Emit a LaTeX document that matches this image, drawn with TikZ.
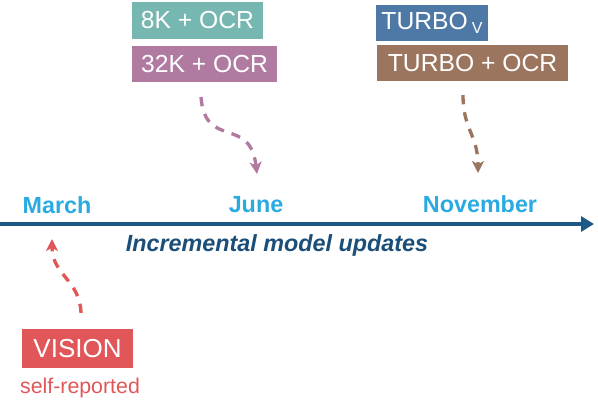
\documentclass[tikz,border=0pt]{standalone}
\usepackage{fontspec}
\setmainfont{Liberation Sans}
\usetikzlibrary{arrows.meta}
\definecolor{cteal}{HTML}{76B7B2}
\definecolor{cpurple}{HTML}{B07AA1}
\definecolor{cblue}{HTML}{4E79A7}
\definecolor{cbrown}{HTML}{9C755F}
\definecolor{cred}{HTML}{E15759}
\definecolor{cmonth}{HTML}{2BAAE2}
\definecolor{cline}{HTML}{1D5985}
\definecolor{ctext}{HTML}{1B4E78}
\tikzset{
  tagbox/.style={fill=#1, text=white, inner sep=0pt, anchor=center,
    font=\fontsize{18.5}{20}\selectfont},
  month/.style={text=cmonth, font=\fontsize{17.5}{20}\selectfont\bfseries, inner sep=0pt},
  flow/.style={draw=#1, line width=2.5pt, dash pattern=on 7pt off 6pt,
    -{Stealth[length=9pt,width=9pt,inset=2.5pt]}}
}
\begin{document}
\begin{tikzpicture}[x=0.75pt,y=-0.75pt]
\useasboundingbox (0,0) rectangle (598,411);
% boxes
\node[tagbox=cteal, minimum width=98.25pt, minimum height=27.75pt] (k8) at (197.5,20.5) {8K + OCR};
\node[tagbox=cpurple, minimum width=108.75pt, minimum height=27pt] (k32) at (204.5,64) {32K + OCR};
\node[tagbox=cblue, minimum width=84pt, minimum height=27pt] (tv) at (432,23) {TURBO\,\raisebox{-0.25ex}{\fontsize{12}{12}\selectfont V}};
\node[tagbox=cbrown, minimum width=143.25pt, minimum height=27pt] (tocr) at (472.5,63) {TURBO + OCR};
\node[tagbox=cred, minimum width=83.25pt, minimum height=29.25pt, font=\fontsize{19.5}{21}\selectfont] (vis) at (77.5,348.5) {VISION};
\node[text=cred, font=\fontsize{16}{18}\selectfont, inner sep=0pt] (self) at (80,388) {self-reported};
% timeline
\coordinate (tl0) at (0,224);
\coordinate (tl1) at (594,224);
\draw[cline, line width=3pt, -{Triangle[length=9.75pt,width=11.25pt]}] (tl0) -- (tl1);
\node[month] (mar) at (57,205) {March};
\node[month] (jun) at (256,205) {June};
\node[month] (nov) at (480,204) {November};
\node[text=ctext, font=\fontsize{17.5}{20}\selectfont\bfseries\itshape, inner sep=0pt] (inc) at (277,245) {Incremental model updates};
% connectors
\coordinate (p0) at (201,97);
\coordinate (p1) at (257,174);
\draw[flow=cpurple] (p0) .. controls (205,150) and (250,115) .. (p1);
\coordinate (b0) at (463,95);
\coordinate (b1) at (478,173);
\draw[flow=cbrown] (b0) .. controls (463,130) and (478,135) .. (b1);
\coordinate (r0) at (81,313);
\coordinate (r1) at (52,239);
\draw[flow=cred] (r0) .. controls (80,280) and (52,275) .. (r1);
\end{tikzpicture}
\end{document}
